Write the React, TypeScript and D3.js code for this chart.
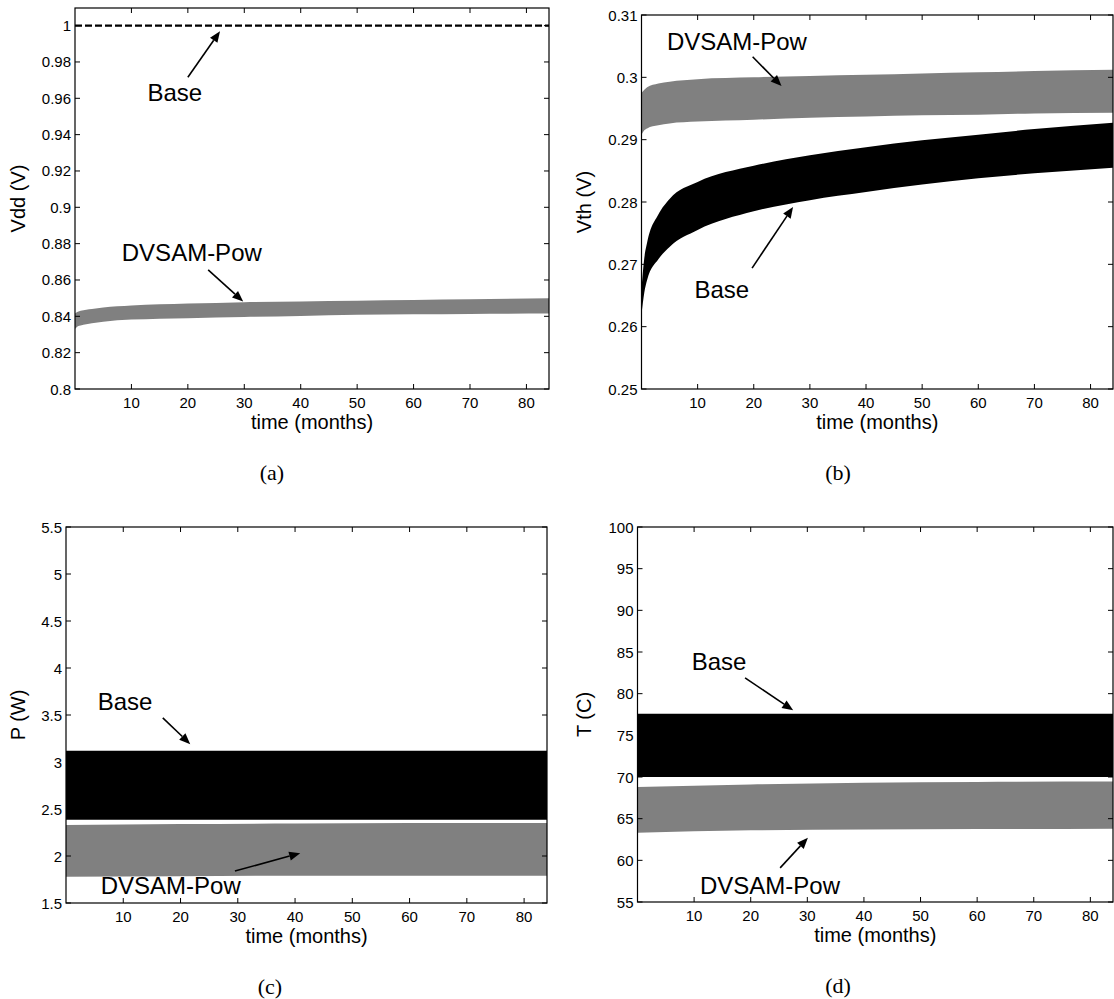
import React from "react";
import * as d3 from "d3";

// sample months used for the band envelopes
const monthsA = [0, 0.5, 1, 3, 5, 10, 20, 30, 40, 50, 60, 70, 84];
const months5 = [0, 20, 40, 60, 84];

// (a) supply voltage
const vddBase = [1, 1];
const vddDvsamUpper = [0.8415, 0.8425, 0.843, 0.844, 0.8448, 0.8459, 0.847, 0.8478, 0.8482, 0.8486, 0.849, 0.8494, 0.8499];
const vddDvsamLower = [0.833, 0.8345, 0.835, 0.8362, 0.837, 0.8382, 0.839, 0.8396, 0.8402, 0.8408, 0.8411, 0.8413, 0.8415];

// (b) threshold voltage
const vthDvsamUpper = [0.2975, 0.298, 0.2984, 0.299, 0.2993, 0.2997, 0.3, 0.3002, 0.3004, 0.3006, 0.3008, 0.301, 0.3012];
const vthDvsamLower = [0.2908, 0.2915, 0.2918, 0.2923, 0.2926, 0.2929, 0.2932, 0.2935, 0.2937, 0.2939, 0.294, 0.2942, 0.2943];
const vthBaseUpper = [0.266, 0.271, 0.2735, 0.278, 0.2805, 0.2832, 0.2858, 0.2875, 0.2888, 0.2899, 0.2908, 0.2917, 0.2927];
const vthBaseLower = [0.262, 0.2655, 0.2675, 0.2708, 0.2728, 0.2755, 0.2785, 0.2803, 0.2816, 0.2828, 0.2838, 0.2846, 0.2855];

// (c) power
const powBaseUpper = [3.12, 3.12, 3.12, 3.12, 3.12];
const powBaseLower = [2.385, 2.385, 2.385, 2.385, 2.385];
const powDvsamUpper = [2.33, 2.34, 2.345, 2.35, 2.35];
const powDvsamLower = [1.78, 1.785, 1.79, 1.79, 1.79];

// (d) temperature
const tBaseUpper = [77.6, 77.6, 77.6, 77.6, 77.6];
const tBaseLower = [70.0, 70.0, 70.0, 70.0, 70.0];
const tDvsamUpper = [68.8, 69.1, 69.3, 69.4, 69.45];
const tDvsamLower = [63.3, 63.6, 63.7, 63.75, 63.8];

const xTicks = [10, 20, 30, 40, 50, 60, 70, 80];
const vddTicks = d3.range(0.8, 1.0001, 0.02);
const vthTicks = d3.range(0.25, 0.3101, 0.01);
const powTicks = d3.range(1.5, 5.501, 0.5);
const tTicks = d3.range(55, 100.01, 5);

const GRAY = "#808080";
const SANS = "'Liberation Sans', Arial, Helvetica, sans-serif";
const SERIF = "'Liberation Serif', 'Times New Roman', serif";

type Band = { m: number[]; upper: number[]; lower: number[]; color: string };
type Note = { text: string; tx: number; ty: number; from: [number, number]; to: [number, number] };

type PanelProps = {
  box: { left: number; right: number; top: number; bottom: number };
  yDomain: [number, number];
  yTicks: number[];
  yFmt: (v: number) => string;
  yLabel: string;
  yLabelX: number;
  caption: string;
  captionX: number;
  bands: Band[];
  dashed?: number[];
  notes: Note[];
};

function Arrow({ x1, y1, x2, y2 }: { x1: number; y1: number; x2: number; y2: number }) {
  const a = Math.atan2(y2 - y1, x2 - x1);
  const len = 11, w = 4.5;
  const bx = x2 - len * Math.cos(a), by = y2 - len * Math.sin(a);
  const p1 = [bx + w * Math.sin(a), by - w * Math.cos(a)];
  const p2 = [bx - w * Math.sin(a), by + w * Math.cos(a)];
  return (
    <g>
      <line x1={x1} y1={y1} x2={bx} y2={by} stroke="#000" strokeWidth={1.6} />
      <polygon points={`${x2},${y2} ${p1.join(",")} ${p2.join(",")}`} fill="#000" />
    </g>
  );
}

function Panel(p: PanelProps) {
  const { left, right, top, bottom } = p.box;
  const x = d3.scaleLinear().domain([0, 84]).range([left, right]);
  const y = d3.scaleLinear().domain(p.yDomain).range([bottom, top]);
  const tl = 5;
  return (
    <g>
      {p.bands.map((b, i) => {
        const area = d3
          .area<number>()
          .x((_, j) => x(b.m[j]))
          .y0((_, j) => y(b.lower[j]))
          .y1((_, j) => y(b.upper[j]))
          .curve(d3.curveMonotoneX);
        return <path key={i} d={area(b.m) || ""} fill={b.color} />;
      })}
      {p.dashed && (
        <line
          x1={x(0)}
          x2={x(84)}
          y1={y(p.dashed[0])}
          y2={y(p.dashed[1])}
          stroke="#000"
          strokeWidth={2.4}
          strokeDasharray="7,3"
        />
      )}
      <rect x={left} y={top} width={right - left} height={bottom - top} fill="none" stroke="#000" strokeWidth={1.2} />
      {xTicks.map((t) => (
        <g key={"x" + t}>
          <line x1={x(t)} x2={x(t)} y1={bottom} y2={bottom - tl} stroke="#000" />
          <line x1={x(t)} x2={x(t)} y1={top} y2={top + tl} stroke="#000" />
          <text x={x(t)} y={bottom + 19} textAnchor="middle" fontSize={15} fontFamily={SANS}>
            {t}
          </text>
        </g>
      ))}
      {p.yTicks.map((t) => (
        <g key={"y" + t}>
          <line x1={left} x2={left + tl} y1={y(t)} y2={y(t)} stroke="#000" />
          <line x1={right} x2={right - tl} y1={y(t)} y2={y(t)} stroke="#000" />
          <text x={left - 4} y={y(t) + 5.5} textAnchor="end" fontSize={15} fontFamily={SANS}>
            {p.yFmt(t)}
          </text>
        </g>
      ))}
      <text x={(left + right) / 2} y={bottom + 40} textAnchor="middle" fontSize={20} fontFamily={SANS}>
        time (months)
      </text>
      <text
        transform={`translate(${p.yLabelX},${(top + bottom) / 2}) rotate(-90)`}
        textAnchor="middle"
        dy="0.35em"
        fontSize={20}
        fontFamily={SANS}
      >
        {p.yLabel}
      </text>
      <text x={p.captionX} y={bottom + 91} textAnchor="middle" fontSize={22} fontFamily={SERIF}>
        {p.caption}
      </text>
      {p.notes.map((n, i) => (
        <g key={"n" + i}>
          <text x={x(n.tx)} y={y(n.ty)} dy="0.36em" textAnchor="middle" fontSize={24} fontFamily={SANS}>
            {n.text}
          </text>
          <Arrow x1={x(n.from[0])} y1={y(n.from[1])} x2={x(n.to[0])} y2={y(n.to[1])} />
        </g>
      ))}
    </g>
  );
}

const trim = (v: number) => String(+v.toFixed(2));

export default function App() {
  return (
    <div style={{ position: "fixed", left: 0, top: 0, width: 1114, height: 999, background: "#fff" }}>
      <svg width={1114} height={999} style={{ display: "block" }}>
        <Panel
          box={{ left: 75, right: 549, top: 8, bottom: 389 }}
          yDomain={[0.8, 1.0097]}
          yTicks={vddTicks}
          yFmt={trim}
          yLabel="Vdd (V)"
          yLabelX={18}
          caption="(a)"
          captionX={272}
          bands={[{ m: monthsA, upper: vddDvsamUpper, lower: vddDvsamLower, color: GRAY }]}
          dashed={vddBase}
          notes={[
            { text: "Base", tx: 17.7, ty: 0.9632, from: [20.0, 0.9716], to: [25.7, 0.9969] },
            { text: "DVSAM-Pow", tx: 20.7, ty: 0.875, from: [23.6, 0.8656], to: [29.8, 0.8481] },
          ]}
        />
        <Panel
          box={{ left: 641.5, right: 1113, top: 15, bottom: 389 }}
          yDomain={[0.25, 0.31]}
          yTicks={vthTicks}
          yFmt={trim}
          yLabel="Vth (V)"
          yLabelX={584}
          caption="(b)"
          captionX={838}
          bands={[
            { m: monthsA, upper: vthDvsamUpper, lower: vthDvsamLower, color: GRAY },
            { m: monthsA, upper: vthBaseUpper, lower: vthBaseLower, color: "#000" },
          ]}
          notes={[
            { text: "DVSAM-Pow", tx: 17.0, ty: 0.3057, from: [19.8, 0.3033], to: [24.95, 0.2986] },
            { text: "Base", tx: 14.3, ty: 0.266, from: [19.7, 0.2694], to: [27.0, 0.2792] },
          ]}
        />
        <Panel
          box={{ left: 66, right: 547, top: 527, bottom: 903 }}
          yDomain={[1.5, 5.5]}
          yTicks={powTicks}
          yFmt={trim}
          yLabel="P (W)"
          yLabelX={18}
          caption="(c)"
          captionX={270}
          bands={[
            { m: months5, upper: powBaseUpper, lower: powBaseLower, color: "#000" },
            { m: months5, upper: powDvsamUpper, lower: powDvsamLower, color: GRAY },
          ]}
          notes={[
            { text: "Base", tx: 10.3, ty: 3.64, from: [16.9, 3.47], to: [21.7, 3.19] },
            { text: "DVSAM-Pow", tx: 18.3, ty: 1.69, from: [29.5, 1.84], to: [40.9, 2.03] },
          ]}
        />
        <Panel
          box={{ left: 637.5, right: 1113, top: 527, bottom: 902 }}
          yDomain={[55, 100]}
          yTicks={tTicks}
          yFmt={trim}
          yLabel="T (C)"
          yLabelX={584}
          caption="(d)"
          captionX={838}
          bands={[
            { m: months5, upper: tBaseUpper, lower: tBaseLower, color: "#000" },
            { m: months5, upper: tDvsamUpper, lower: tDvsamLower, color: GRAY },
          ]}
          notes={[
            { text: "Base", tx: 14.4, ty: 83.9, from: [19.0, 81.9], to: [27.5, 78.0] },
            { text: "DVSAM-Pow", tx: 23.4, ty: 57.0, from: [25.2, 59.1], to: [30.1, 62.7] },
          ]}
        />
      </svg>
    </div>
  );
}
